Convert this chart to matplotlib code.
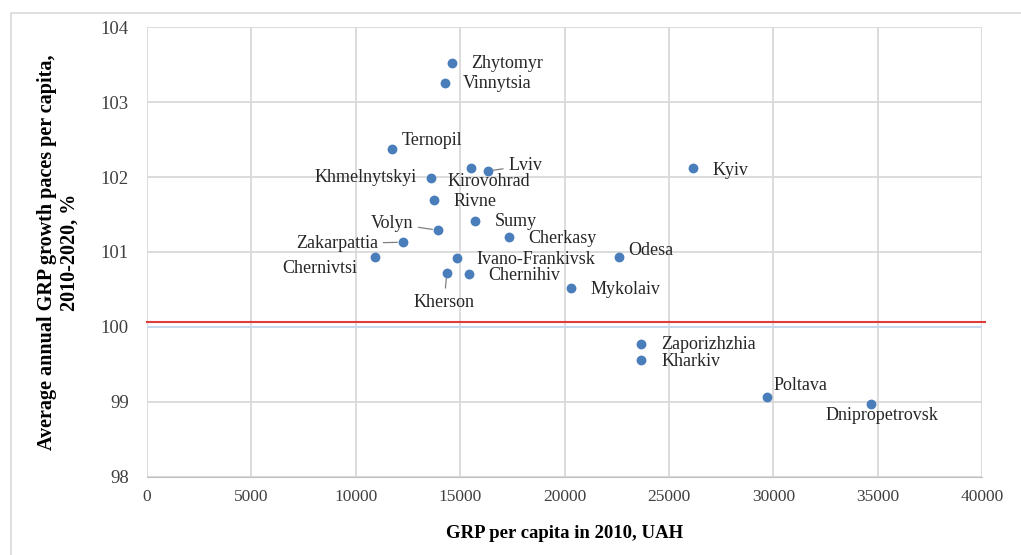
import matplotlib.pyplot as plt
from matplotlib.patches import Rectangle

regions = ['Zhytomyr', 'Vinnytsia', 'Ternopil', 'Khmelnytskyi', 'Kirovohrad', 'Lviv',
           'Rivne', 'Sumy', 'Volyn', 'Zakarpattia', 'Cherkasy', 'Chernivtsi',
           'Ivano-Frankivsk', 'Kherson', 'Chernihiv', 'Odesa', 'Mykolaiv', 'Kyiv',
           'Zaporizhzhia', 'Kharkiv', 'Poltava', 'Dnipropetrovsk']
grp_2010 = [14600, 14260, 11720, 13590, 15500, 16320,
            13730, 15700, 13930, 12250, 17320, 10910,
            14830, 14360, 15410, 22590, 20290, 26130,
            23640, 23640, 29670, 34690]
growth = [103.52, 103.25, 102.37, 101.99, 102.12, 102.08,
          101.69, 101.41, 101.29, 101.13, 101.20, 100.93,
          100.92, 100.72, 100.71, 100.93, 100.52, 102.12,
          99.77, 99.56, 99.07, 98.97]
threshold = 100.06

# label offsets in points (dx, dy), alignment, leader line
label_pos = {
    'Zhytomyr': (14, 0, 'left', False), 'Vinnytsia': (13, 0, 'left', False),
    'Ternopil': (7, 6, 'left', False), 'Khmelnytskyi': (-10, 0, 'right', False),
    'Kirovohrad': (-17, -10, 'left', False), 'Lviv': (15, 4, 'left', True),
    'Rivne': (14, -1, 'left', False), 'Sumy': (14, 0, 'left', False),
    'Volyn': (-18, 5, 'right', True), 'Zakarpattia': (-18, -1, 'right', True),
    'Cherkasy': (14, -1, 'left', False), 'Chernivtsi': (-13, -8, 'right', False),
    'Ivano-Frankivsk': (14, -1, 'left', False), 'Kherson': (-2, -21, 'center', True),
    'Chernihiv': (14, -1, 'left', False), 'Odesa': (7, 5, 'left', False),
    'Mykolaiv': (14, -1, 'left', False), 'Kyiv': (14, -2, 'left', False),
    'Zaporizhzhia': (15, 0, 'left', False), 'Kharkiv': (15, -1, 'left', False),
    'Poltava': (5, 8, 'left', False), 'Dnipropetrovsk': (-33, -8, 'left', False),
}

serif = 'Liberation Serif'
fig = plt.figure(figsize=(10.21, 5.55), dpi=100)
ax = fig.add_axes([0.144, 0.141, 0.818, 0.810])
fig.patches.append(Rectangle((0.011, -0.01), 1.2, 0.987, transform=fig.transFigure,
                             fill=False, edgecolor='#d9d9d9', linewidth=1.2))

ax.set_xlim(0, 40000)
ax.set_ylim(98, 104)
ax.set_xticks(range(0, 40001, 5000))
ax.set_yticks(range(98, 105))
ax.grid(True, color='#d9d9d9', linewidth=1.3)
ax.set_axisbelow(True)
for side in ['top', 'right', 'left']:
    ax.spines[side].set_visible(False)
ax.spines['bottom'].set_color('#bfbfbf')
ax.tick_params(length=0, colors='#404040')
ax.tick_params(axis='y', pad=13, labelsize=13.5)
ax.tick_params(axis='x', pad=9, labelsize=12.5)
for lab in ax.get_xticklabels() + ax.get_yticklabels():
    lab.set_fontfamily(serif)

ax.axhline(100, color='#c6d9f0', linewidth=1.3, zorder=1)
ax.plot([0, 40150], [threshold, threshold], color='#e03c3c', linewidth=1.5,
        clip_on=False, zorder=2)

ax.scatter(grp_2010, growth, s=50, color='#4a7ebb', zorder=3, linewidths=0)

for name, x, y in zip(regions, grp_2010, growth):
    dx, dy, ha, leader = label_pos[name]
    arrow = dict(arrowstyle='-', color='#7f7f7f', lw=0.9, shrinkA=2, shrinkB=4) if leader else None
    ax.annotate(name, (x, y), xytext=(dx, dy), textcoords='offset points',
                ha=ha, va='center', fontsize=13, family=serif, color='#262626',
                arrowprops=arrow, zorder=4)

ax.set_xlabel('GRP per capita in 2010, UAH', fontsize=13.5, fontweight='bold',
              family=serif, labelpad=14)
ax.set_ylabel('Average annual GRP growth paces per capita,\n2010-2020, %', fontsize=14.5,
              fontweight='bold', family=serif, labelpad=15, linespacing=1.2)

fig.savefig('out.png', dpi=100)
